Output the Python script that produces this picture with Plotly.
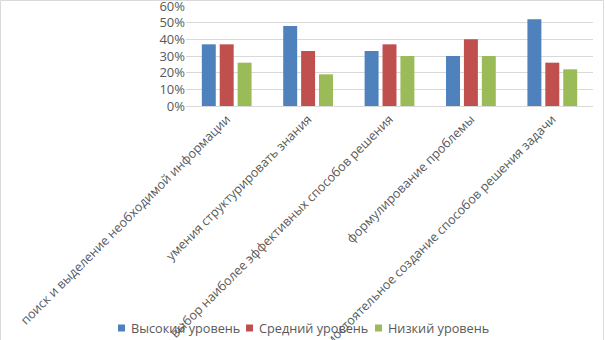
import plotly.graph_objects as go

categories = [
    "поиск и выделение необходимой информации",
    "умения структурировать знания",
    "выбор наиболее эффективных способов решения",
    "формулирование проблемы",
    "самостоятельное создание способов решения задачи",
]
series_names = ["Высокий уровень", "Средний уровень", "Низкий уровень"]
high = [0.37, 0.48, 0.33, 0.30, 0.52]
mid = [0.37, 0.33, 0.37, 0.40, 0.26]
low = [0.26, 0.19, 0.30, 0.30, 0.22]
colors = ["#4F81BD", "#C0504D", "#9BBB59"]
y_ticks = [0, 0.1, 0.2, 0.3, 0.4, 0.5, 0.6]

W, H = 605, 340
ml, mr, mt, mb = 186, 12, 6, 234
pw, ph = W - ml - mr, H - mt - mb

fig = go.Figure()
for name, vals, c in zip(series_names, [high, mid, low], colors):
    fig.add_trace(go.Bar(x=categories, y=vals, name=name, marker_color=c,
                         marker_line_width=0))

fig.update_layout(
    width=W, height=H,
    margin=dict(l=ml, r=mr, t=mt, b=mb, autoexpand=False),
    paper_bgcolor="white", plot_bgcolor="white",
    font=dict(family="Open Sans", color="#595959"),
    barmode="group", bargap=0.34, bargroupgap=0.22,
    showlegend=False,
)
fig.update_xaxes(tickangle=-45, tickfont=dict(size=12.6, color="#595959"),
                 showline=True, linecolor="#D9D9D9", linewidth=1,
                 ticks="", automargin=False, showgrid=False,
                 ticklabeloverflow="allow")
fig.update_yaxes(range=[0, 0.6], tickvals=y_ticks, tickformat=".0%",
                 tickfont=dict(size=13, color="#595959"),
                 showgrid=True, gridcolor="#D9D9D9", gridwidth=1,
                 zeroline=False, showline=False, automargin=False, ticks="",
                 ticklabeloverflow="allow")

# outer chart frame
fig.add_shape(type="rect", xref="paper", yref="paper",
              x0=-(ml - 0.5) / pw, x1=(pw + mr - 1.5) / pw,
              y0=-(mb + 0.5) / ph + 0.0, y1=(ph + mt - 0.5) / ph,
              line=dict(color="#D9D9D9", width=1), layer="below")

# legend (drawn as swatches + text, laid out like the reference)
def px_x(p):
    return (p - ml) / pw

def px_y(p):
    return (H - mb - p) / ph

legend_left = 118
legend_pitch = [0, 128, 257]
leg_y = 328
for name, c, off in zip(series_names, colors, legend_pitch):
    sx = legend_left + off
    fig.add_shape(type="rect", xref="paper", yref="paper",
                  x0=px_x(sx), x1=px_x(sx + 7),
                  y0=px_y(leg_y + 3.5), y1=px_y(leg_y - 3.5),
                  fillcolor=c, line=dict(width=0))
    fig.add_annotation(xref="paper", yref="paper", x=px_x(sx + 11),
                       y=px_y(leg_y), xanchor="left", yanchor="middle",
                       text=name, showarrow=False,
                       font=dict(size=12.7, color="#595959"))

fig.write_html("out.html", config={"displayModeBar": False},
               post_script="document.body.style.margin='0';")
